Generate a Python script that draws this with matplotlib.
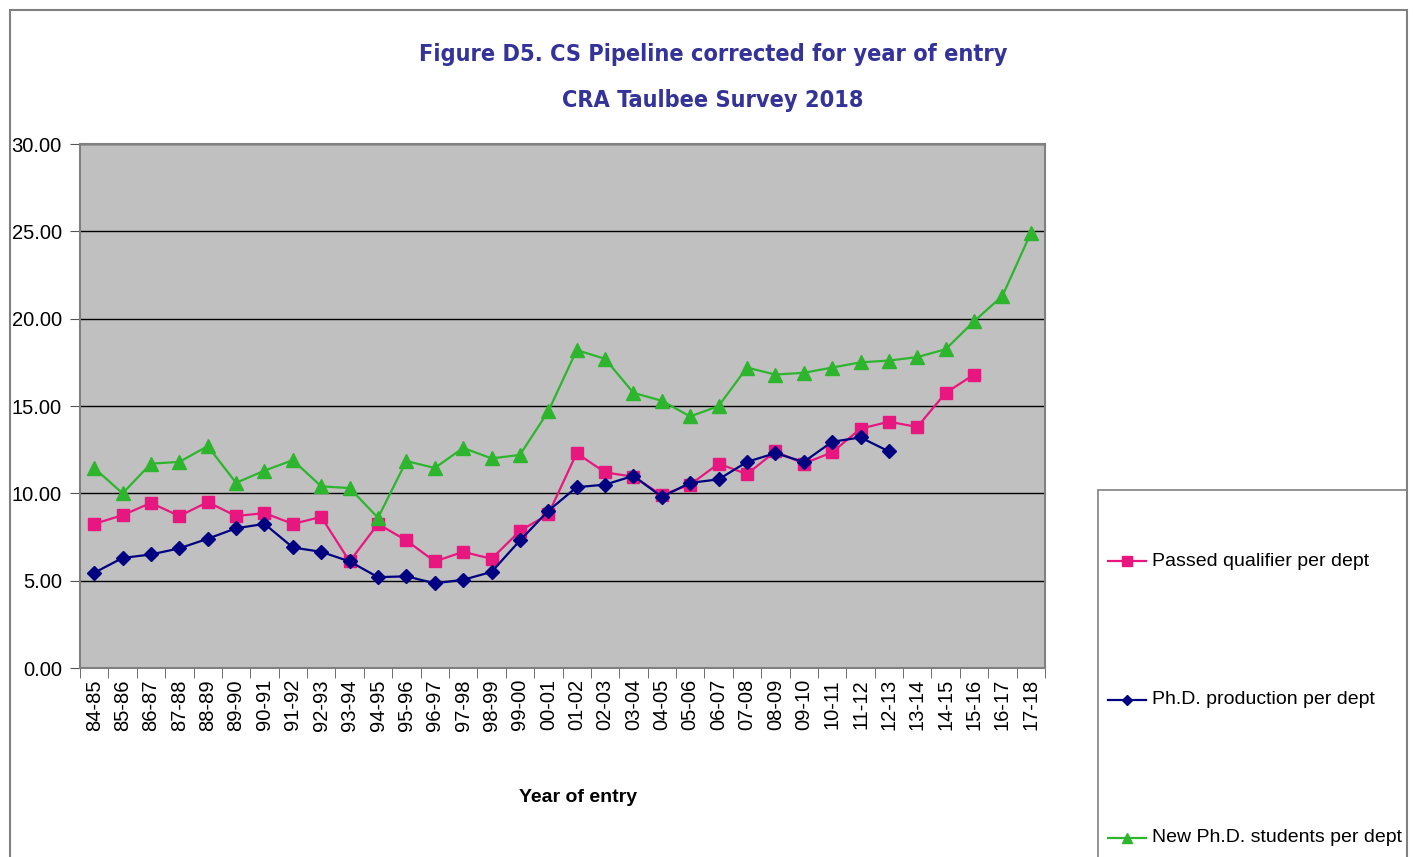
import matplotlib.pyplot as plt
from matplotlib.patches import Rectangle
from matplotlib.lines import Line2D
import numpy as np

plt.rcParams['font.family'] = ['Liberation Sans', 'DejaVu Sans']

years = ['84-85', '85-86', '86-87', '87-88', '88-89', '89-90', '90-91', '91-92',
         '92-93', '93-94', '94-95', '95-96', '96-97', '97-98', '98-99', '99-00',
         '00-01', '01-02', '02-03', '03-04', '04-05', '05-06', '06-07', '07-08',
         '08-09', '09-10', '10-11', '11-12', '12-13', '13-14', '14-15', '15-16',
         '16-17', '17-18']

passed_qual = [8.25, 8.75, 9.45, 8.7, 9.5, 8.7, 8.87, 8.25, 8.65, 6.1, 8.25, 7.3,
               6.1, 6.65, 6.25, 7.85, 8.8, 12.3, 11.2, 10.95, 9.9, 10.5, 11.7, 11.1,
               12.4, 11.7, 12.35, 13.7, 14.1, 13.8, 15.75, 16.8]

phd_prod = [5.45, 6.3, 6.5, 6.85, 7.4, 8.0, 8.25, 6.9, 6.65, 6.1, 5.2, 5.25,
            4.85, 5.05, 5.5, 7.3, 9.0, 10.35, 10.5, 11.0, 9.8, 10.6, 10.8, 11.8,
            12.3, 11.8, 12.95, 13.2, 12.4]

new_phd = [11.45, 10.0, 11.7, 11.8, 12.7, 10.6, 11.3, 11.9, 10.4, 10.3, 8.6, 11.85,
           11.45, 12.6, 12.0, 12.2, 14.7, 18.2, 17.7, 15.75, 15.3, 14.4, 15.0, 17.2,
           16.8, 16.9, 17.2, 17.5, 17.6, 17.8, 18.25, 19.85, 21.3, 24.9]

pink = '#e8177f'
navy = '#000080'
green = '#2db52d'

W, H = 1413, 857
fig = plt.figure(figsize=(W / 100, H / 100), dpi=100)
ax = fig.add_axes([80 / W, 1 - 668 / H, (1045 - 80) / W, (668 - 144) / H])

x = np.arange(len(years))
ax.plot(x[:len(passed_qual)], passed_qual, color=pink, lw=1.6, marker='s', ms=8.5,
        label='Passed qualifier per dept')
ax.plot(x[:len(phd_prod)], phd_prod, color=navy, lw=1.6, marker='D', ms=7,
        label='Ph.D. production per dept')
ax.plot(x, new_phd, color=green, lw=1.6, marker='^', ms=9.5,
        label='New Ph.D. students per dept')

ax.set_facecolor('#c0c0c0')
ax.set_xlim(-0.5, len(years) - 0.5)
ax.set_ylim(0, 30)
ax.set_yticks(np.arange(0, 31, 5))
ax.set_yticklabels(['%.2f' % v for v in np.arange(0, 31, 5)], fontsize=14.5)
ax.yaxis.grid(True, color='black', lw=1)
ax.set_axisbelow(True)

ax.set_xticks(x)
ax.set_xticklabels(years, rotation=90, fontsize=14.5)
ax.set_xticks(np.arange(-0.5, len(years), 1), minor=True)
ax.tick_params(axis='x', which='major', length=0, pad=8)
ax.tick_params(axis='x', which='minor', length=7, direction='out', color='#555555')
ax.tick_params(axis='y', length=7, direction='out', color='#555555', pad=6)
for s in ax.spines.values():
    s.set_color('#808080')
    s.set_linewidth(1.5)

ax.set_xlabel('Year of entry', fontsize=14, fontweight='bold')
ax.xaxis.set_label_coords((578 - 80) / (1045 - 80), -(797 - 668) / (668 - 144))
ax.xaxis.label.set_va('center')

title_font = dict(ha='center', va='center', fontsize=16.8, fontweight='bold',
                  color='#333399', family='DejaVu Sans', fontstretch='condensed')
fig.text(713 / W, 1 - 54 / H, 'Figure D5. CS Pipeline corrected for year of entry',
         **title_font)
fig.text(713 / W, 1 - 101 / H, 'CRA Taulbee Survey 2018', **title_font)

# outer chart frame and legend box
fig.patches.append(Rectangle((10 / W, -0.05), (1407 - 10) / W, 1 - 10 / H + 0.05,
                             transform=fig.transFigure, fill=False,
                             edgecolor='#808080', lw=1.5))
fig.patches.append(Rectangle((1098 / W, -0.05), (1407 - 1098) / W, 1 - 490 / H + 0.05,
                             transform=fig.transFigure, fill=False,
                             edgecolor='#808080', lw=1.2))

handles, labels = ax.get_legend_handles_labels()
legend_y = [561, 700, 838]
for h, lab, yy in zip(handles, labels, legend_y):
    ln = Line2D([1108 / W, 1146 / W], [1 - yy / H] * 2, transform=fig.transFigure,
                color=h.get_color(), lw=1.6)
    mk = Line2D([1127 / W], [1 - yy / H], transform=fig.transFigure,
                color=h.get_color(), marker=h.get_marker(), ms=h.get_markersize() * 0.8,
                lw=0)
    fig.lines.extend([ln, mk])
    fig.text(1152 / W, 1 - yy / H, lab, ha='left', va='center', fontsize=14)

plt.savefig('out.png', dpi=100)
